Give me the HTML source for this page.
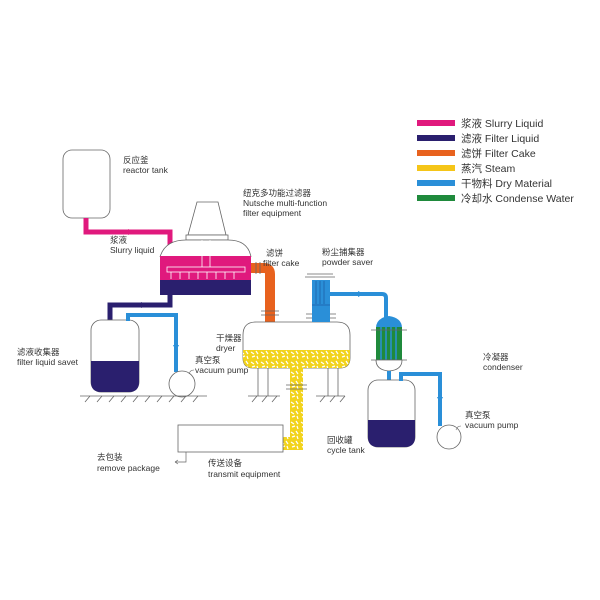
<!DOCTYPE html>
<html><head><meta charset="utf-8"><style>
body{margin:0;background:#fff}
svg{display:block}
text{font-family:"Liberation Sans","Noto Sans CJK SC",sans-serif;fill:#333}
</style></head><body>
<svg width="600" height="600" viewBox="0 0 600 600" xmlns="http://www.w3.org/2000/svg">
<defs>
<pattern id="yp" width="10" height="10" patternUnits="userSpaceOnUse">
<rect width="10" height="10" fill="#f2d31c"/>
<path d="M1 2 l3 2 M6 1 l2 3 M2 7 l3 -1 M7 6 l1 3" stroke="#fff" stroke-width="1.2"/>
</pattern>
</defs>
<g font-size="10.5">
<rect x="417" y="120" width="38" height="6" fill="#e0197d"/><text x="461" y="127">浆液 Slurry Liquid</text>
<rect x="417" y="135" width="38" height="6" fill="#2a1f6e"/><text x="461" y="142">滤液 Filter Liquid</text>
<rect x="417" y="150" width="38" height="6" fill="#e8621e"/><text x="461" y="157">滤饼 Filter Cake</text>
<rect x="417" y="165" width="38" height="6" fill="#f5c518"/><text x="461" y="172">蒸汽 Steam</text>
<rect x="417" y="180" width="38" height="6" fill="#2a8fd8"/><text x="461" y="187">干物料 Dry Material</text>
<rect x="417" y="195" width="38" height="6" fill="#1f8a3c"/><text x="461" y="202">冷却水 Condense Water</text>
</g>
<g stroke="#666" stroke-width="0.8" fill="none">
<rect x="63" y="150" width="47" height="68" rx="9" fill="#fff"/>
</g>
<path d="M86 218 V232 H170 V246" stroke="#e0197d" stroke-width="5" fill="none"/>
<path d="M128 229 l6 3 l-6 3z" fill="#e0197d"/>
<path d="M197 202 H218 L226 235 H188 Z" fill="#fff" stroke="#666" stroke-width="0.8"/>
<rect x="186" y="235" width="42" height="5" fill="#fff" stroke="#666" stroke-width="0.8"/>
<path d="M160 257 Q165 240 186 240 H228 Q248 240 251 257" fill="#fff" stroke="#666" stroke-width="0.8"/>
<rect x="160" y="256" width="91" height="25" fill="#e0197d"/>
<rect x="160" y="280" width="91" height="15" fill="#2a1f6e"/>
<g stroke="#fff" stroke-width="0.8" fill="none">
<line x1="202" y1="240" x2="202" y2="267"/><line x1="210" y1="240" x2="210" y2="267"/>
<rect x="167" y="267" width="78" height="5"/>
<path d="M171 272v7M180 272v7M189 272v7M198 272v7M207 272v7M216 272v7M225 272v7M234 272v7"/>
</g>
<path d="M170 295 V305 H110 V322" stroke="#2a1f6e" stroke-width="5" fill="none"/>
<path d="M142 302 l-6 3 l6 3z" fill="#2a1f6e"/>
<rect x="91" y="320" width="48" height="72" rx="10" fill="#fff" stroke="#666" stroke-width="0.8"/>
<path d="M91 361 H139 V382 Q139 392 129 392 H101 Q91 392 91 382Z" fill="#2a1f6e"/>
<path d="M128 321 V315 H176 V372" stroke="#2a8fd8" stroke-width="4" fill="none"/>
<path d="M173 345 l3 6 l3 -6z" fill="#2a8fd8"/>
<circle cx="182" cy="384" r="13" fill="#fff" stroke="#666" stroke-width="0.8"/>
<g stroke="#666" stroke-width="0.8">
<line x1="80" y1="396" x2="207" y2="396"/>
<path d="M85 402l5-6M97 402l5-6M109 402l5-6M121 402l5-6M133 402l5-6M145 402l5-6M157 402l5-6M169 402l5-6M181 402l5-6M193 402l5-6"/>
<line x1="248" y1="396" x2="280" y2="396"/><line x1="316" y1="396" x2="345" y2="396"/>
<path d="M252 402l5-6M262 402l5-6M272 402l5-6M320 402l5-6M330 402l5-6M340 402l5-6"/>
<path d="M258 368V396M268 368V396M328 368V396M338 368V396"/>
</g>
<path d="M251 268 H264 Q270 268 270 274 V322" stroke="#e8621e" stroke-width="10" fill="none"/>
<g stroke="#666" stroke-width="0.8"><path d="M256 262v12M260 262v12M261 311h18M261 315h18"/></g>
<path d="M243 335 Q243 322 256 322 H337 Q350 322 350 335 V358 Q350 368 340 368 H253 Q243 368 243 358Z" fill="#fff" stroke="#666" stroke-width="0.8"/>
<path d="M243 350 H350 V358 Q350 368 340 368 H253 Q243 368 243 358Z" fill="url(#yp)"/>
<path d="M290 367 H303 V450 H283 V437 H290Z" fill="url(#yp)"/>
<g stroke="#666" stroke-width="0.8"><path d="M286 385h21M286 389h21"/></g>
<rect x="178" y="425" width="105" height="27" fill="#fff" stroke="#666" stroke-width="0.8"/>
<path d="M186 452 V462 H175 M175 462 l3 -2 M175 462 l3 2" stroke="#666" stroke-width="0.7" fill="none"/>
<g stroke="#666" stroke-width="0.8"><path d="M305 277h30M307 274h26M306 314h8M328 314h8M306 318h8M328 318h8"/></g>
<rect x="312" y="280" width="18" height="25" fill="#2a8fd8"/>
<rect x="312" y="305" width="18" height="17" fill="#2a8fd8"/>
<g stroke="#1b5fa8" stroke-width="0.8"><path d="M316 281v23M320 281v23M324 281v23M312 305h18"/></g>
<path d="M330 294 H382 Q386 294 386 298 V320" stroke="#2a8fd8" stroke-width="4" fill="none"/>
<path d="M358 291 l6 3 l-6 3z" fill="#2a8fd8"/>
<path d="M376 328 Q376 318 389 316 Q402 318 402 328Z" fill="#2a8fd8"/>
<rect x="376" y="327" width="26" height="33" fill="#1f8a3c"/>
<g stroke="#2a8fd8" stroke-width="1.5"><path d="M381 327v33M386 327v33M391 327v33M396 327v33"/></g>
<g stroke="#666" stroke-width="0.8"><path d="M371 330h36M371 360h36"/></g>
<path d="M376 360 Q376 370 389 371 Q402 370 402 360Z" fill="#fff" stroke="#666" stroke-width="0.8"/>
<rect x="387" y="371" width="4" height="9" fill="#2a8fd8"/>
<rect x="368" y="380" width="47" height="67" rx="10" fill="#fff" stroke="#666" stroke-width="0.8"/>
<path d="M368 420 H415 V437 Q415 447 405 447 H378 Q368 447 368 437Z" fill="#2a1f6e"/>
<path d="M401 381 V374 H440 V426" stroke="#2a8fd8" stroke-width="4" fill="none"/>
<path d="M437 397 l3 6 l3 -6z" fill="#2a8fd8"/>
<circle cx="449" cy="437" r="12" fill="#fff" stroke="#666" stroke-width="0.8"/>
<g stroke="#666" stroke-width="0.6" fill="none">
<path d="M189 374 Q190 370 194 370"/><path d="M456 430 Q457 426 461 426"/>
</g>
<g font-size="8.5">
<text x="123" y="163">反应釜</text><text x="123" y="173">reactor tank</text>
<text x="243" y="196">纽克多功能过滤器</text><text x="243" y="206">Nutsche multi-function</text><text x="243" y="216">filter equipment</text>
<text x="110" y="243">浆液</text><text x="110" y="253">Slurry liquid</text>
<text x="266" y="256">滤饼</text><text x="263" y="266">filter cake</text>
<text x="322" y="255">粉尘捕集器</text><text x="322" y="265">powder saver</text>
<text x="17" y="355">滤液收集器</text><text x="17" y="365">filter liquid savet</text>
<text x="195" y="363">真空泵</text><text x="195" y="373">vacuum pump</text>
<text x="216" y="341">干燥器</text><text x="216" y="351">dryer</text>
<text x="483" y="360">冷凝器</text><text x="483" y="370">condenser</text>
<text x="465" y="418">真空泵</text><text x="465" y="428">vacuum pump</text>
<text x="327" y="443">回收罐</text><text x="327" y="453">cycle tank</text>
<text x="97" y="460">去包装</text><text x="97" y="471">remove package</text>
<text x="208" y="466">传送设备</text><text x="208" y="477">transmit equipment</text>
</g>
</svg>
</body></html>
